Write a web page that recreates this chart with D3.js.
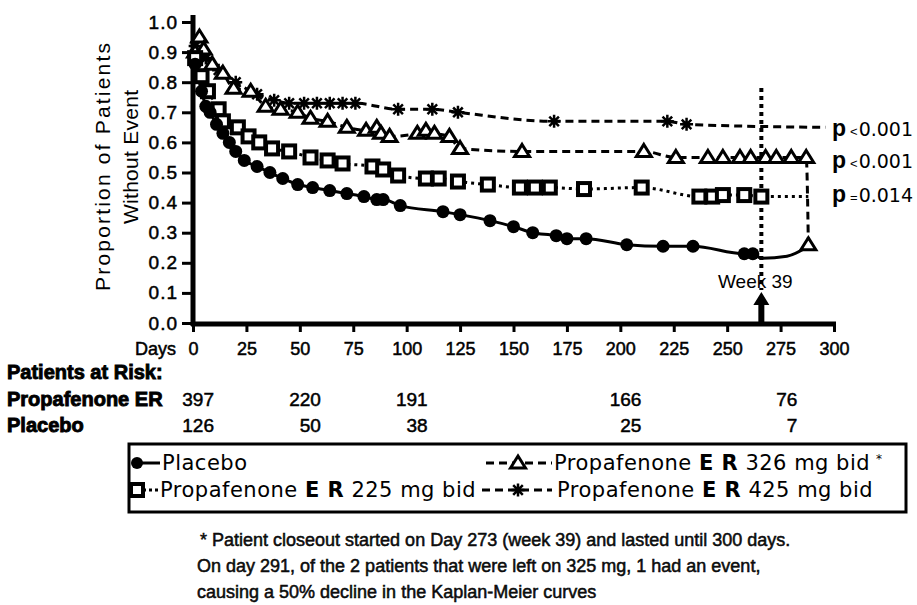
<!DOCTYPE html>
<html>
<head>
<meta charset="utf-8">
<script src="https://cdn.jsdelivr.net/npm/d3@7"></script>
<style>
  body { margin: 0; background: #fff; }
  svg { display: block; font-family: "Liberation Sans", Arial, sans-serif; }
  .heavy { stroke: #000; stroke-width: 0.5px; }
  .xheavy { stroke: #000; stroke-width: 0.9px; }
</style>
</head>
<body>
<svg id="chart" width="917" height="605"></svg>
<script>
// [day, proportion without event]
const placebo = [[1,0.86],[4,0.77],[6,0.72],[8,0.70],[11,0.66],[14,0.63],[17,0.60],[20,0.57],
    [24,0.54],[30,0.52],[36,0.50],[42,0.48],[49,0.46],[56,0.45],[64,0.44],[72,0.43],[80,0.42],
    [86,0.41],[89,0.41],[97,0.39],[117,0.37],[125,0.36],[139,0.34],[150,0.32],[159,0.30],
    [170,0.29],[175,0.28],[184,0.28],[203,0.26],[220,0.255],[234,0.255],[258,0.23],[262,0.23]];
const placeboTail = [[266,0.215],[278,0.222],[288,0.255]];

const er225 = [[1,0.88],[4,0.82],[7,0.77],[12,0.71],[14,0.67],[21,0.65],[26,0.62],[31,0.60],
    [37,0.58],[45,0.57],[55,0.55],[63,0.54],[70,0.53],[84,0.52],[89,0.51],[96,0.49],[109,0.48],
    [115,0.48],[124,0.47],[138,0.46],[153,0.45],[160,0.45],[167,0.45],[183,0.445],[210,0.45],
    [237,0.42],[243,0.42],[248,0.425],[258,0.425],[266,0.42]];
const er225Tail = [[288,0.42]];

const er326 = [[1,0.90],[3,0.95],[5,0.91],[9,0.86],[14,0.83],[19,0.78],[27,0.77],[34,0.72],
    [41,0.71],[49,0.70],[55,0.68],[63,0.67],[72,0.65],[81,0.64],[86,0.65],[88,0.63],[92,0.62],
    [105,0.63],[109,0.64],[113,0.63],[120,0.62],[125,0.58],[154,0.57],[211,0.57],[226,0.55],
    [241,0.55],[248,0.55],[256,0.55],[261,0.55],[268,0.55],[273,0.55],[280,0.55],[287,0.55],
    [288,0.26]];

const er425 = [[1,0.92],[6,0.88],[12,0.84],[20,0.80],[30,0.76],[38,0.74],[45,0.73],[52,0.73],
    [58,0.73],[64,0.73],[70,0.73],[76,0.73],[96,0.71],[112,0.71],[124,0.70],[169,0.67],
    [222,0.67],[231,0.66]];
const er425Tail = [[296,0.65]];

const xTicks = d3.range(0, 301, 25);
const yTicks = d3.range(0, 11).map(d => d / 10);

const riskDays = [0, 50, 100, 200, 273];
const riskER = [397, 220, 191, 166, 76];
const riskPlacebo = [126, 50, 38, 25, 7];

const pLabels = ["<0.001", "<0.001", "=0.014"];
const pLevels = [0.647, 0.54, 0.43];
const weekDay = 266;

const footnote = [
    "* Patient closeout started on Day 273 (week 39) and lasted until 300 days.",
    "On day 291, of the 2 patients that were left on 325 mg, 1 had an event,",
    "causing a 50% decline in the Kaplan-Meier curves"
];

const svg = d3.select("#chart");
svg.append("rect").attr("width", 917).attr("height", 605).attr("fill", "#fff");

const x = d3.scaleLinear().domain([0, 300]).range([193, 834]);
const y = d3.scaleLinear().domain([0, 1]).range([323, 22]);

// axes
const yAxis = d3.axisLeft(y).tickValues(yTicks).tickFormat(d3.format(".1f"))
    .tickSize(11).tickSizeOuter(0).tickPadding(4);
const gy = svg.append("g").attr("transform", "translate(" + x(0) + ",0)").call(yAxis);
gy.select(".domain").remove();
gy.selectAll(".tick line").attr("stroke", "#000").attr("stroke-width", 3);
gy.selectAll(".tick text").attr("fill", "#000").attr("class", "heavy")
    .style("font-size", "19px").style("letter-spacing", "1px");

const xAxis = d3.axisBottom(x).tickValues(xTicks).tickSize(8).tickSizeOuter(0).tickPadding(10);
const gx = svg.append("g").attr("transform", "translate(0,324)").call(xAxis);
gx.select(".domain").remove();
gx.selectAll(".tick line").attr("stroke", "#000").attr("stroke-width", 3);
gx.selectAll(".tick text").attr("fill", "#000").attr("class", "heavy")
    .style("font-size", "18px");

svg.append("line").attr("x1", x(0)).attr("x2", x(0)).attr("y1", 15).attr("y2", 326)
    .attr("stroke", "#000").attr("stroke-width", 5);
svg.append("line").attr("x1", x(0) - 2).attr("x2", x(300) + 2).attr("y1", 324).attr("y2", 324)
    .attr("stroke", "#000").attr("stroke-width", 5);

svg.append("text").attr("x", 176).attr("y", 355).attr("text-anchor", "end")
    .attr("class", "heavy").style("font-size", "18px").text("Days");

// y title
const yTitle = svg.append("g");
yTitle.append("text").attr("transform", "translate(110,167) rotate(-90)")
    .attr("text-anchor", "middle").style("font-size", "21px")
    .attr("textLength", 248).attr("lengthAdjust", "spacing").text("Proportion of Patients");
yTitle.append("text").attr("transform", "translate(138,157) rotate(-90)")
    .attr("text-anchor", "middle").style("font-size", "21px")
    .attr("textLength", 134).attr("lengthAdjust", "spacing").text("Without Event");

// week 39 marker
svg.append("line").attr("x1", x(weekDay)).attr("x2", x(weekDay)).attr("y1", 88).attr("y2", 290)
    .attr("stroke", "#000").attr("stroke-width", 4).attr("stroke-dasharray", "4,4");
svg.append("text").attr("x", x(weekDay) - 6).attr("y", 288).attr("text-anchor", "middle")
    .style("font-size", "19px").text("Week 39");
svg.append("path")
    .attr("d", "M" + x(weekDay) + ",292 l8,13 h-5 v17 h-6 v-17 h-5 z")
    .attr("fill", "#000");

// lines
const line = d3.line().x(d => x(d[0])).y(d => y(d[1])).curve(d3.curveMonotoneX);

function drawLine(data, dash) {
    svg.append("path").attr("d", line(data)).attr("fill", "none")
        .attr("stroke", "#000").attr("stroke-width", 3)
        .attr("stroke-dasharray", dash);
}
drawLine(er425.concat(er425Tail), "8,5");
drawLine(er326, "8,5");
drawLine(er225.concat(er225Tail), "3,4");
drawLine(placebo.concat(placeboTail), null);

// markers
const triPath = "M0,-7L7.5,5H-7.5Z";
const starPath = "M-6.5,0H6.5M0,-6.5V6.5M-4.8,-4.8L4.8,4.8M-4.8,4.8L4.8,-4.8";

function markers(g, data, type) {
    const sel = g.selectAll(null).data(data);
    if (type === "circle") {
        sel.join("circle").attr("cx", d => x(d[0])).attr("cy", d => y(d[1]))
            .attr("r", 6.5).attr("fill", "#000");
    } else if (type === "square") {
        sel.join("rect").attr("x", d => x(d[0]) - 6).attr("y", d => y(d[1]) - 6)
            .attr("width", 12).attr("height", 12)
            .attr("fill", "#fff").attr("stroke", "#000").attr("stroke-width", 4);
    } else if (type === "triangle") {
        sel.join("path").attr("d", triPath)
            .attr("transform", d => "translate(" + x(d[0]) + "," + y(d[1]) + ")")
            .attr("fill", "#fff").attr("stroke", "#000").attr("stroke-width", 3);
    } else {
        sel.join("path").attr("d", starPath)
            .attr("transform", d => "translate(" + x(d[0]) + "," + y(d[1]) + ")")
            .attr("fill", "none").attr("stroke", "#000").attr("stroke-width", 2.5);
    }
}
const gm = svg.append("g");
markers(gm, er425, "star");
markers(gm, er326, "triangle");
markers(gm, er225, "square");
markers(gm, placebo, "circle");

// p values
pLevels.forEach((v, i) => {
    const t = svg.append("text").attr("x", 832).attr("y", y(v) + 8).style("font-size", "23px");
    t.append("tspan").attr("font-weight", "bold").text("p");
    t.append("tspan").attr("dx", 4).style("font-size", "13px").text(pLabels[i].charAt(0));
    t.append("tspan").attr("dx", 1).style("font-size", "19px")
        .style("font-family", "'DejaVu Sans', sans-serif").text(pLabels[i].slice(1));
});

// patients at risk
const risk = svg.append("g").style("font-size", "20px");
risk.append("text").attr("x", 7).attr("y", 379).attr("font-weight", "bold").attr("class", "xheavy")
    .text("Patients at Risk:");
risk.append("text").attr("x", 7).attr("y", 406).attr("font-weight", "bold").attr("class", "xheavy")
    .text("Propafenone ER");
risk.append("text").attr("x", 7).attr("y", 432).attr("font-weight", "bold").attr("class", "xheavy")
    .text("Placebo");
risk.selectAll(".er").data(riskER).join("text").attr("class", "er heavy")
    .attr("x", (d, i) => x(riskDays[i]) + 21).attr("y", 406)
    .attr("text-anchor", "end").style("font-size", "19px").text(d => d);
risk.selectAll(".pl").data(riskPlacebo).join("text").attr("class", "pl heavy")
    .attr("x", (d, i) => x(riskDays[i]) + 21).attr("y", 432)
    .attr("text-anchor", "end").style("font-size", "19px").text(d => d);

// legend
const leg = svg.append("g");
leg.append("rect").attr("x", 129).attr("y", 444).attr("width", 777).attr("height", 68)
    .attr("fill", "none").attr("stroke", "#000").attr("stroke-width", 3);

function legendItem(lx, ly, x1, x2, mx, type, dash, label, suffix) {
    leg.append("line").attr("x1", x1).attr("x2", x2).attr("y1", ly).attr("y2", ly)
        .attr("stroke", "#000").attr("stroke-width", 3).attr("stroke-dasharray", dash);
    const g = leg.append("g").attr("transform", "translate(" + mx + "," + ly + ")");
    if (type === "circle") g.append("circle").attr("r", 6).attr("fill", "#000");
    else if (type === "square") g.append("rect").attr("x", -6).attr("y", -6).attr("width", 12)
        .attr("height", 12).attr("fill", "#fff").attr("stroke", "#000").attr("stroke-width", 4);
    else if (type === "triangle") g.append("path").attr("d", triPath).attr("fill", "#fff")
        .attr("stroke", "#000").attr("stroke-width", 3);
    else g.append("path").attr("d", starPath).attr("fill", "none")
        .attr("stroke", "#000").attr("stroke-width", 2.5);
    const t = leg.append("text").attr("x", lx).attr("y", ly + 7)
        .style("font-family", "'DejaVu Sans', sans-serif").style("font-size", "21px")
        .style("letter-spacing", "0.5px");
    if (label) {
        t.append("tspan").text("Propafenone ");
        t.append("tspan").attr("font-weight", "bold").text("E R");
        t.append("tspan").text(" " + label);
        if (suffix) t.append("tspan").attr("dx", 6).attr("dy", -7).style("font-size", "12px").text(suffix);
    } else {
        t.text("Placebo");
    }
}
legendItem(162, 463, 136, 160, 137, "circle", null, null);
legendItem(160, 490, 137, 160, 137, "square", "3,3", "225 mg bid");
legendItem(554, 463, 486, 552, 518, "triangle", "8,5", "326 mg bid", "*");
legendItem(557, 490, 482, 552, 518, "star", "8,5", "425 mg bid");

// footnote
svg.append("g").selectAll("text").data(footnote).join("text")
    .attr("x", (d, i) => i === 0 ? 200 : 197).attr("y", (d, i) => 546 + i * 26)
    .attr("class", "heavy").style("font-size", "18px").attr("fill", "#111").text(d => d);
</script>
</body>
</html>
